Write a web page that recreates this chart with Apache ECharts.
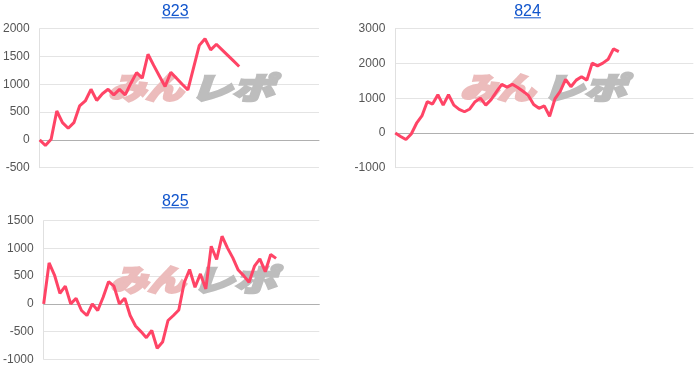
<!DOCTYPE html>
<html>
<head>
<meta charset="utf-8">
<script src="https://cdn.jsdelivr.net/npm/echarts@6/dist/echarts.min.js"></script>
<style>html,body{margin:0;padding:0;background:#fff}#c{width:700px;height:384px}</style>
</head>
<body>
<div id="c"></div>
<script>
// ---- data ----
const titles = ['823', '824', '825'];
const values823 = [0, -100, 10, 520, 310, 210, 310, 610, 700, 910, 710, 830, 910, 810, 910, 810, 1020, 1210, 1110, 1540, 1340, 1150, 960, 1215, 1110, 1000, 900, 1300, 1700, 1820, 1620, 1720, 1620, 1520, 1420, 1320];
const values824 = [0, -100, -190, -30, 280, 490, 900, 830, 1100, 800, 1100, 800, 680, 610, 690, 900, 1000, 800, 960, 1180, 1400, 1320, 1400, 1310, 1200, 1080, 820, 710, 780, 480, 980, 1200, 1540, 1330, 1520, 1620, 1520, 2010, 1930, 2010, 2120, 2420, 2340];
const values825 = [0, 740, 520, 190, 320, 0, 100, -120, -210, 0, -120, 120, 400, 320, 0, 100, -210, -400, -500, -610, -480, -800, -690, -300, -210, -110, 380, 620, 300, 540, 270, 1040, 800, 1220, 1010, 830, 610, 510, 390, 680, 810, 580, 890, 820];
const slotCount823 = 50;
const slotCount824 = 57;
const slotCount825 = 52;
const yTicks823 = [-500, 0, 500, 1000, 1500, 2000];
const yTicks824 = [-1000, 0, 1000, 2000, 3000];
const yTicks825 = [-1000, -500, 0, 500, 1000, 1500];
const watermarkA = 'みん';
const watermarkB = 'レポ';

// ---- build ----
function cats(n) { const a = []; for (let i = 1; i <= n; i++) a.push(String(i)); return a; }
const panels = [
  { title: titles[0], values: values823, cats: cats(slotCount823), ticks: yTicks823,
    grid: { left: 39.5, top: 28.7, width: 279.5, height: 139 }, tx: 175.3, ty: 4, wmx: 0, wmy: 0 },
  { title: titles[1], values: values824, cats: cats(slotCount824), ticks: yTicks824,
    grid: { left: 395.3, top: 28.7, width: 298, height: 139 }, tx: 527.5, ty: 4, wmx: 352, wmy: 0 },
  { title: titles[2], values: values825, cats: cats(slotCount825), ticks: yTicks825,
    grid: { left: 43.3, top: 220.7, width: 276, height: 138.6 }, tx: 175.3, ty: 194, wmx: 2, wmy: 192 }
];

const font = "'Liberation Sans', Arial, sans-serif";
const option = {
  animation: false,
  backgroundColor: '#fff',
  title: [], grid: [], xAxis: [], yAxis: [], series: [], graphic: []
};

panels.forEach((p, i) => {
  option.title.push({
    text: p.title, left: p.tx, top: p.ty, textAlign: 'center', padding: 0,
    textStyle: { color: '#1155cc', fontSize: 16, fontWeight: 'normal', fontFamily: font }
  });
  option.graphic.push({
    type: 'line', silent: true, z: 10,
    shape: { x1: p.tx - 13.5, y1: p.ty + 13.8, x2: p.tx + 13.5, y2: p.ty + 13.8 },
    style: { stroke: '#1155cc', lineWidth: 1 }
  });
  option.graphic.push({
    type: 'text', silent: true, z: 1, x: 108 + p.wmx, y: 88 + p.wmy, scaleX: 1.25, scaleY: 1,
    style: { text: watermarkA, fill: '#ecbcbc', stroke: '#ecbcbc', lineWidth: 2.5,
             font: "italic 900 30px 'Noto Sans CJK JP'", verticalAlign: 'middle', align: 'left' }
  });
  option.graphic.push({
    type: 'text', silent: true, z: 1, x: 190 + p.wmx, y: 88 + p.wmy, scaleX: 1.4, scaleY: 1,
    style: { text: watermarkB, fill: '#bdbdbd', stroke: '#bdbdbd', lineWidth: 2.5,
             font: "italic 900 30px 'Noto Sans CJK JP'", verticalAlign: 'middle', align: 'left' }
  });
  option.grid.push(Object.assign({ containLabel: false }, p.grid));
  option.xAxis.push({
    gridIndex: i, type: 'category', data: p.cats, boundaryGap: false,
    axisLine: { show: true, onZero: true, lineStyle: { color: '#b0b0b0', width: 1 } },
    axisTick: { show: false }, axisLabel: { show: false }, splitLine: { show: false }
  });
  option.yAxis.push({
    gridIndex: i, type: 'value',
    min: p.ticks[0], max: p.ticks[p.ticks.length - 1], interval: p.ticks[1] - p.ticks[0],
    axisLine: { show: true, lineStyle: { color: '#e0e0e0' } },
    axisTick: { show: false },
    axisLabel: { color: '#555', fontSize: 12, fontFamily: font, margin: 10,
                 formatter: v => String(v) },
    splitLine: { show: true, lineStyle: { color: '#e4e4e4', width: 1 } }
  });
  option.series.push({
    type: 'line', xAxisIndex: i, yAxisIndex: i, data: p.values,
    showSymbol: false, symbol: 'none', z: 5,
    lineStyle: { color: '#ff4466', width: 3 }, itemStyle: { color: '#ff4466' }
  });
});

const chart = echarts.init(document.getElementById('c'), null, { renderer: 'canvas' });
chart.setOption(option);
</script>
</body>
</html>
